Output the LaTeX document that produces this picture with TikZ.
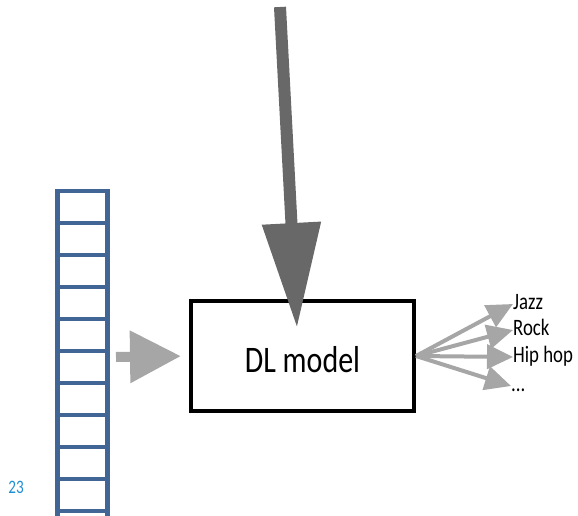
\documentclass[tikz,border=0pt]{standalone}
\usepackage{fontspec}
\setmainfont[FakeStretch=0.8]{Carlito}
\usetikzlibrary{arrows.meta}

\definecolor{vecblue}{RGB}{65,102,150}
\definecolor{darkarrow}{RGB}{104,104,104}
\definecolor{lightarrow}{RGB}{166,166,166}
\definecolor{pagenum}{RGB}{30,143,212}

\begin{document}
\begin{tikzpicture}[x=1pt, y=-1pt, every node/.style={inner sep=0pt},
    genre/.style={anchor=west, font=\fontsize{23.5}{25}\selectfont,
                  text height=14pt, text depth=4pt},
    fan/.style={lightarrow, line width=4pt,
                -{Triangle[length=26pt,width=24pt]}}]
  \useasboundingbox (0,0) rectangle (578,516);

  % input vector
  \foreach \i in {0,...,10} {
      \draw[vecblue, line width=4.5pt] (55.5,191+32*\i) -- (109.5,191+32*\i);
  }
  \draw[vecblue, line width=4.5pt] (57.5,189) -- (57.5,516) (107.5,189) -- (107.5,516);

  \node[font=\fontsize{19}{20}\selectfont, text=pagenum] (page) at (16,487) {23};

  % model
  \node[draw, line width=4pt, minimum width=223pt, minimum height=110pt,
        font=\fontsize{37.5}{40}\selectfont, text height=32pt, text depth=0pt]
        (model) at (302.5,356) {DL model};

  \coordinate (src) at (280,7);
  \coordinate (hit) at (297,328);
  \draw[darkarrow, line width=12pt, -{Triangle[length=105pt,width=56pt]}] (src) -- (hit);

  \coordinate (feat) at (116,357);
  \draw[lightarrow, line width=10pt, -{Triangle[length=51pt,width=50pt]},
        shorten >=8pt] (feat) -- (model.west);

  % outputs
  \node[genre] (jazz)   at (513,304) {Jazz};
  \node[genre] (rock)   at (513,330) {Rock};
  \node[genre] (hiphop) at (513,357) {Hip hop};
  \node[genre] (more)   at (511,386) {...};

  \foreach \g in {jazz,rock,hiphop,more} {
      \draw[fan] (model.east) -- (\g.west);
  }
\end{tikzpicture}
\end{document}
